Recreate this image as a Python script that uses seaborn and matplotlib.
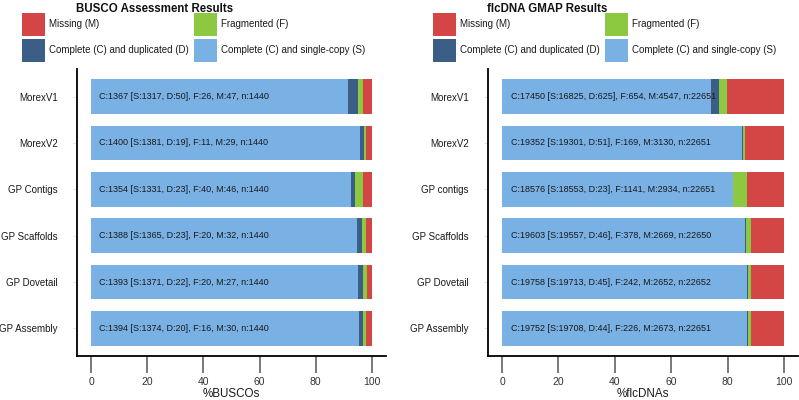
import matplotlib
matplotlib.use("Agg")
import matplotlib.pyplot as plt
import seaborn as sns
import pandas as pd
from matplotlib.patches import Patch

sns.set_style("white")
plt.rcParams['font.family'] = ['Liberation Sans', 'DejaVu Sans']

# ---- data ----
busco_labels = ["MorexV1", "MorexV2", "GP Contigs", "GP Scaffolds", "GP Dovetail", "GP Assembly"]
busco_S = [1317, 1381, 1331, 1365, 1371, 1374]
busco_D = [50, 19, 23, 23, 22, 20]
busco_F = [26, 11, 40, 20, 20, 16]
busco_M = [47, 29, 46, 32, 27, 30]
busco_n = [1440, 1440, 1440, 1440, 1440, 1440]

gmap_labels = ["MorexV1", "MorexV2", "GP contigs", "GP Scaffolds", "GP Dovetail", "GP Assembly"]
gmap_S = [16825, 19301, 18553, 19557, 19713, 19708]
gmap_D = [625, 51, 23, 46, 45, 44]
gmap_F = [654, 169, 1141, 378, 242, 226]
gmap_M = [4547, 3130, 2934, 2669, 2652, 2673]
gmap_n = [22651, 22651, 22651, 22650, 22652, 22651]

legend_labels = ["Missing (M)", "Complete (C) and duplicated (D)",
                 "Fragmented (F)", "Complete (C) and single-copy (S)"]

c_M = "#d44545"
c_F = "#8cc840"
c_D = "#3b5e87"
c_S = "#7ab1e4"

fig = plt.figure(figsize=(7.99, 4.0), dpi=100)
ax1 = fig.add_axes([77/799, 44/400, 309/799, 287/400])
ax2 = fig.add_axes([488/799, 44/400, 310/799, 287/400])


def draw(ax, labels, S, D, F, M, n, xlabel, title, title_x, leg_x):
    df = pd.DataFrame({"cat": labels, "S": S, "D": D, "F": F, "M": M, "n": n})
    tot = df[["S", "D", "F", "M"]].sum(axis=1)
    df["pS"] = df["S"] / tot * 100
    df["pD"] = df["pS"] + df["D"] / tot * 100
    df["pF"] = df["pD"] + df["F"] / tot * 100
    df["pM"] = df["pF"] + df["M"] / tot * 100
    for col, c in [("pM", c_M), ("pF", c_F), ("pD", c_D), ("pS", c_S)]:
        sns.barplot(data=df, y="cat", x=col, color=c, orient="h", width=0.75,
                    errorbar=None, ax=ax, linewidth=0, saturation=1)
    for i, r in df.iterrows():
        txt = f"C:{r.S + r.D} [S:{r.S}, D:{r.D}], F:{r.F}, M:{r.M}, n:{r.n}"
        ax.text(3, i, txt, va="center", ha="left", fontsize=6.5, color="#1a1a1a")
    ax.set_xlim(-5, 105)
    ax.set_ylim(5.593, -0.593)
    ax.set_xticks([0, 20, 40, 60, 80, 100])
    ax.set_xlabel(xlabel, fontsize=8.4, color="#1a1a1a", labelpad=1)
    ax.set_ylabel("")
    for s in ["top", "right"]:
        ax.spines[s].set_visible(False)
    for s in ["left", "bottom"]:
        ax.spines[s].set_color("black")
        ax.spines[s].set_linewidth(1.3)
    ax.tick_params(axis="x", length=12, width=1.1, color="#555555", direction="out",
                   labelsize=7.5, labelcolor="#333333", pad=3, bottom=True)
    ax.tick_params(axis="y", length=3, width=0.6, color="#dddddd", direction="out",
                   labelsize=7, labelcolor="#1a1a1a", pad=11, left=True)
    fig.text(title_x / 799, 0.977, title, ha="center", va="center",
             fontsize=8.3, fontweight="bold", color="#111111")
    handles = [Patch(facecolor=c, edgecolor="none") for c in [c_M, c_D, c_F, c_S]]
    fig.legend(handles, legend_labels, loc="upper left",
               bbox_to_anchor=(leg_x / 799, 387 / 400), bbox_transform=fig.transFigure,
               ncol=2, frameon=False, fontsize=7, handlelength=2.37, handleheight=3.26,
               labelspacing=0.31, handletextpad=0.4, columnspacing=0.55, borderpad=0,
               borderaxespad=0, labelcolor="#1a1a1a")


draw(ax1, busco_labels, busco_S, busco_D, busco_F, busco_M, busco_n,
     "%BUSCOs", "BUSCO Assessment Results", 154.5, 22)
draw(ax2, gmap_labels, gmap_S, gmap_D, gmap_F, gmap_M, gmap_n,
     "%flcDNAs", "flcDNA GMAP Results", 547.5, 433)

fig.savefig("out.png", dpi=100)
